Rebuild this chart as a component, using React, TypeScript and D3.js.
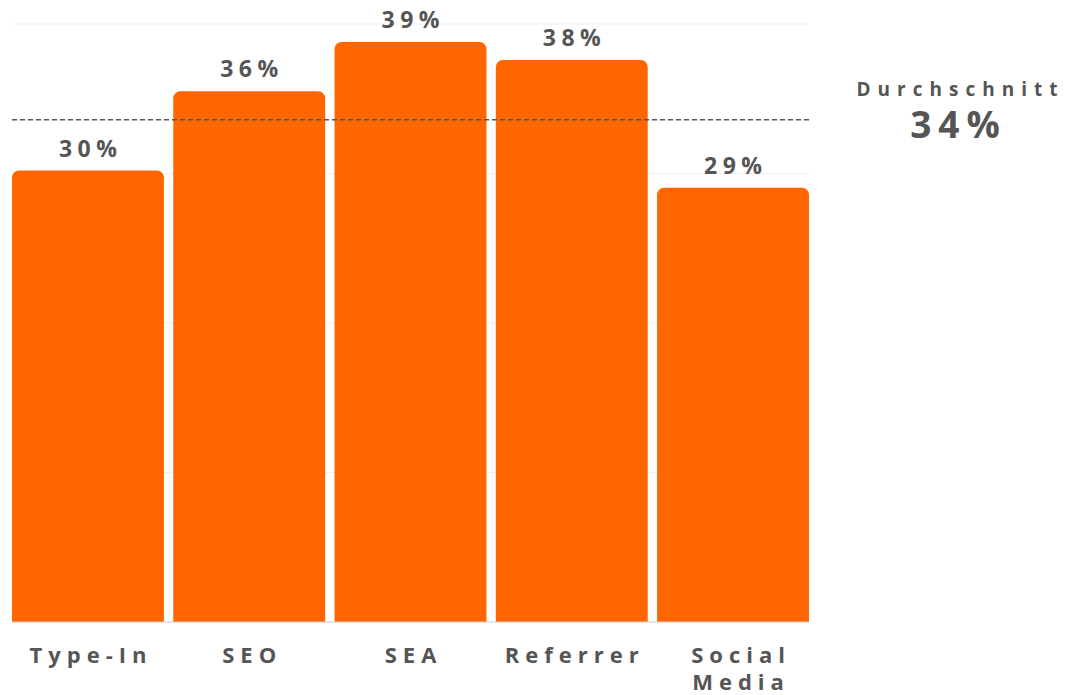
import React from "react";
import * as d3 from "d3";

const categories = ["Type-In", "SEO", "SEA", "Referrer", "Social Media"];
const values = [30.2, 35.5, 38.8, 37.6, 29.05];
const valueLabels = ["30%", "36%", "39%", "38%", "29%"];
const averageValue = 33.6;
const averageLabel = "34%";
const averageTitle = "Durchschnitt";
const gridTicks = [0, 10, 20, 30, 40];

const W = 1068;
const H = 695;
const FONT = "'Open Sans', 'DejaVu Sans', sans-serif";
const TEXT = "#555555";
const BAR = "#FF6600";

function topRoundedRect(x: number, y: number, w: number, h: number, r: number) {
  const p = d3.path();
  p.moveTo(x, y + h);
  p.lineTo(x, y + r);
  p.arcTo(x, y, x + r, y, r);
  p.lineTo(x + w - r, y);
  p.arcTo(x + w, y, x + w, y + r, r);
  p.lineTo(x + w, y + h);
  p.closePath();
  return p.toString();
}

export default function App() {
  const x = d3
    .scaleBand<string>()
    .domain(categories)
    .range([12, 809])
    .paddingInner(0.058)
    .paddingOuter(0);
  const y = d3.scaleLinear().domain([0, 40]).range([622, 24]);
  const bw = x.bandwidth();
  const ls = 5.5;

  return (
    <svg
      width={W}
      height={H}
      style={{ position: "absolute", left: 0, top: 0 }}
      fontFamily={FONT}
    >
      {gridTicks.slice(1).map((t) => (
        <line key={t} x1={12} x2={809} y1={y(t)} y2={y(t)} stroke="#f0f0f0" strokeWidth={1} />
      ))}
      {categories.map((c, i) => {
        const bx = x(c)!;
        const by = y(values[i]);
        return (
          <g key={c}>
            <path d={topRoundedRect(bx, by, bw, y(0) - by, 7)} fill={BAR} />
            <text
              x={bx + bw / 2 + ls / 2}
              y={by - 14}
              textAnchor="middle"
              fontSize={23}
              fontWeight={700}
              letterSpacing={ls}
              fill={TEXT}
            >
              {valueLabels[i]}
            </text>
          </g>
        );
      })}
      <line x1={12} x2={809} y1={y(0)} y2={y(0)} stroke="#cccccc" strokeWidth={1} />
      <line
        x1={12}
        x2={809}
        y1={y(averageValue)}
        y2={y(averageValue)}
        stroke="#555555"
        strokeWidth={1.5}
        strokeDasharray="5,3"
      />
      {categories.map((c) => {
        const cx = x(c)! + bw / 2 + 3;
        const words = c === "Social Media" ? ["Social", "Media"] : [c];
        const ox = words.length > 1 ? 5 : 0;
        return (
          <text
            key={c}
            x={cx + ox}
            y={663}
            textAnchor="middle"
            fontSize={22}
            fontWeight={700}
            letterSpacing={6}
            fill={TEXT}
          >
            {words.map((w, k) => (
              <tspan key={k} x={cx + ox} dy={k === 0 ? 0 : 27}>
                {w}
              </tspan>
            ))}
          </text>
        );
      })}
      <text
        x={957 + 3.5}
        y={96}
        textAnchor="middle"
        fontSize={19}
        fontWeight={700}
        letterSpacing={7}
        fill={TEXT}
      >
        {averageTitle}
      </text>
      <text
        x={955 + 3.5}
        y={138}
        textAnchor="middle"
        fontSize={37}
        fontWeight={700}
        letterSpacing={7}
        fill={TEXT}
      >
        {averageLabel}
      </text>
    </svg>
  );
}
